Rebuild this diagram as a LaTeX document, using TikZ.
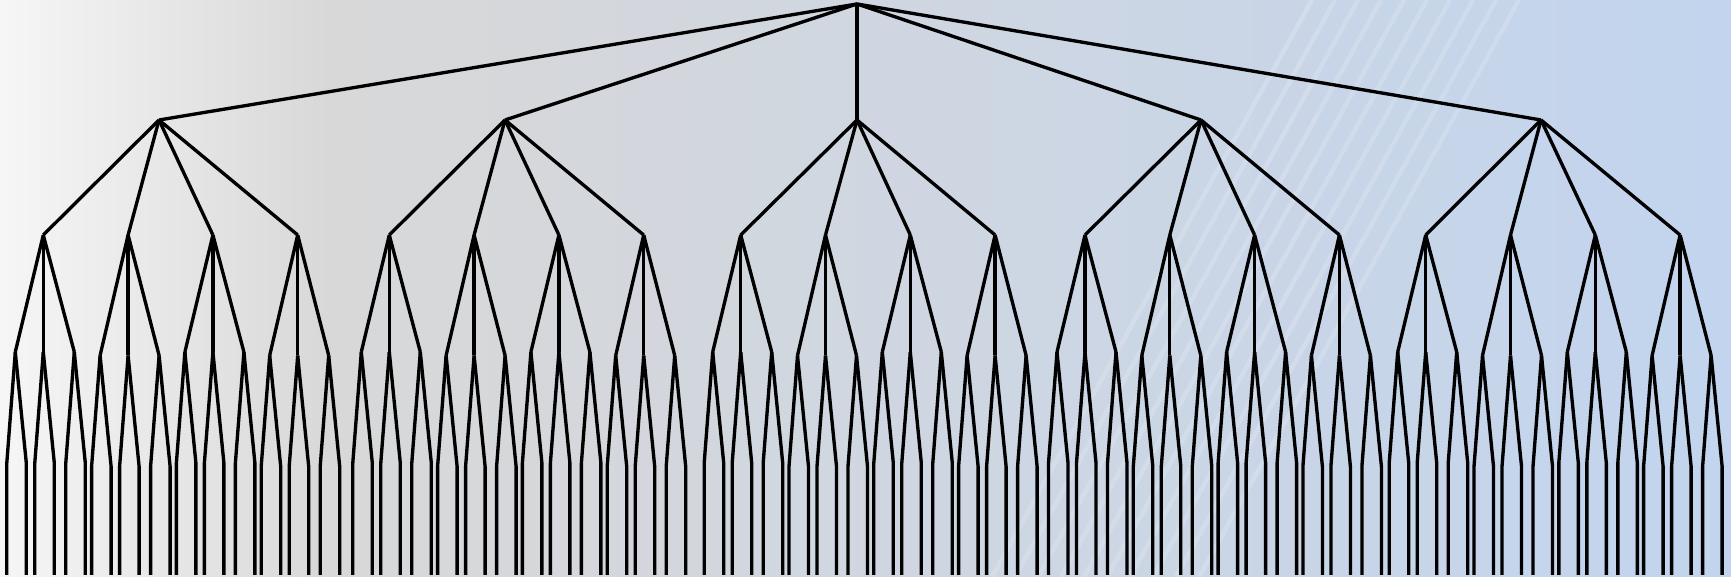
\documentclass[tikz,border=0pt]{standalone}
\usepackage{tikz}
\usepackage{xcolor}
\definecolor{bgleft}{HTML}{F6F6F6}
\definecolor{bggrey}{HTML}{D8D8D8}
\definecolor{bgblue}{HTML}{C2D4EE}
\pgfdeclarehorizontalshading{backdrop}{100bp}{color(0bp)=(bgleft); color(25bp)=(bgleft);
  color(34.5bp)=(bggrey); color(75bp)=(bgblue); color(100bp)=(bgblue)}
\tikzstyle{branch} = [line width=0.95pt, black]
\tikzstyle{glint}  = [line width=1.3pt, white, opacity=0.17]

\begin{document}
\begin{tikzpicture}[x=0.01cm, y=-0.01cm]
    \useasboundingbox (0,0) rectangle (1731,577);
    \shade[shading=backdrop] (0,0) rectangle (1731,577);
    \begin{scope}
        \clip (0,0) rectangle (1731,577);
        \foreach \t in {0,...,9}
            \draw[glint] ({1312+23*\t},0) -- ++(-320,577);
    \end{scope}

    \coordinate (root) at (857,4);
    \foreach \i/\s/\m in {1/43.3/159, 2/389.3/505, 3/740.7/857, 4/1085/1201, 5/1425.7/1541}{
        \coordinate (t\i) at (\m,120);
        \draw[branch] (root) -- (t\i);
        \foreach \j in {1,...,4}{
            \pgfmathsetmacro{\xa}{\s+(\j-1)*84.8}
            \pgfmathsetmacro{\jit}{mod(\j+1,2)*3.5}
            \coordinate (t\i-\j) at (\xa,235);
            \draw[branch] (t\i) -- (t\i-\j);
            \foreach \k/\dk in {1/-28,2/0,3/31}{
                \pgfmathsetmacro{\xb}{\xa+(\dk)}
                \coordinate (t\i-\j-\k) at (\xb,352+\jit);
                \draw[branch] (t\i-\j) -- (t\i-\j-\k);
                \foreach \l/\dl in {1/-8.5,2/11}{
                    \pgfmathsetmacro{\xc}{\xb+(\dl)}
                    \coordinate (t\i-\j-\k-\l) at (\xc,463+\jit);
                    \coordinate (f\i-\j-\k-\l) at (\xc,575);
                    \draw[branch] (t\i-\j-\k) -- (t\i-\j-\k-\l) -- (f\i-\j-\k-\l);
                }
            }
        }
    }
\end{tikzpicture}
\end{document}
